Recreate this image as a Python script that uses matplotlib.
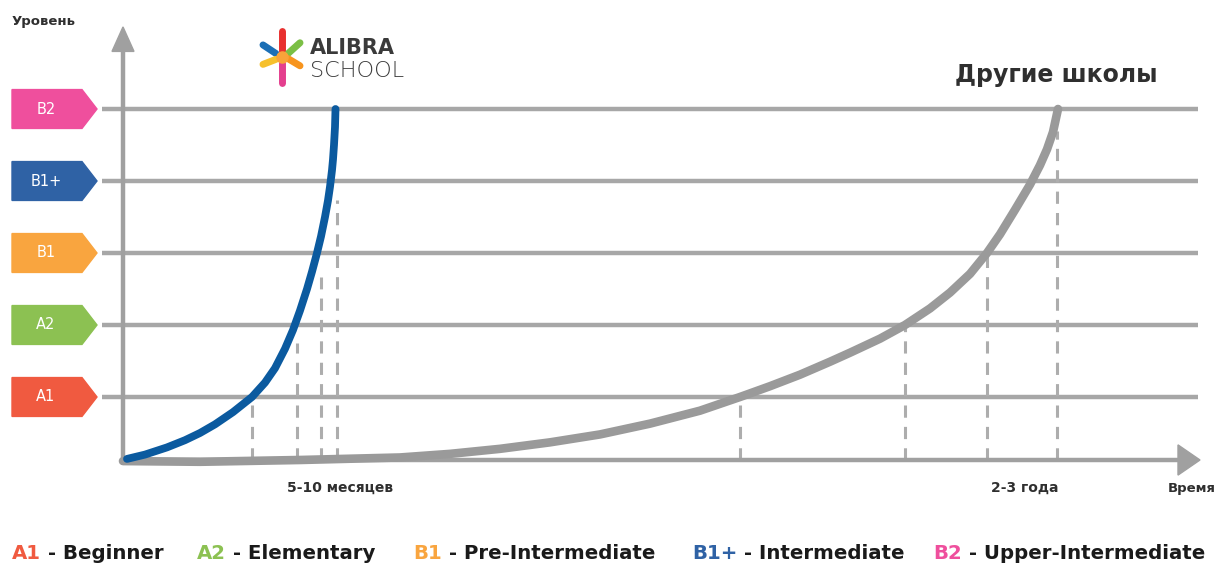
import matplotlib
matplotlib.use("Agg")
import matplotlib.pyplot as plt
from matplotlib.patches import Polygon

# ---------------- data ----------------
levels = ["A1", "A2", "B1", "B1+", "B2"]
level_pos = [1, 2, 3, 4, 5]
level_colors = ["#f05a40", "#8cc152", "#f9a53f", "#2f62a5", "#ef4f9d"]
level_names = ["Beginner", "Elementary", "Pre-Intermediate", "Intermediate", "Upper-Intermediate"]

alibra_t = [4, 22, 44, 62, 77, 92, 110, 129, 142, 152, 162, 170, 177, 184, 189, 194,
            198, 202, 205, 207, 209, 210, 211, 212, 212.5]
alibra_lvl = [0.14, 0.20, 0.30, 0.40, 0.50, 0.62, 0.79, 1.0, 1.20, 1.40, 1.67, 1.93,
              2.20, 2.50, 2.74, 3.0, 3.23, 3.50, 3.73, 3.92, 4.15, 4.30, 4.50, 4.75, 5.0]

other_t = [0, 77, 177, 277, 327, 377, 427, 477, 527, 577, 617, 647, 677, 707, 727, 757,
           782, 807, 827, 847, 864, 877, 892, 907, 917, 924, 930, 935]
other_lvl = [0.11, 0.10, 0.125, 0.16, 0.21, 0.28, 0.37, 0.48, 0.63, 0.81, 1.0, 1.15,
             1.31, 1.49, 1.615, 1.81, 2.0, 2.23, 2.45, 2.71, 3.0, 3.26, 3.60, 3.95,
             4.22, 4.44, 4.68, 5.0]

alibra_drop_t = [129, 174, 198, 214]
alibra_drop_top = [1.0, 1.75, 2.67, 3.74]
other_drop_t = [617, 782, 864, 934]
other_drop_top = [1.0, 2.0, 3.0, 4.7]

baseline = 0.125

fig = plt.figure(figsize=(12.18, 5.70), dpi=100)
ax = fig.add_axes([0, 0, 1, 1])
ax.set_xlim(-123, 1095)
ax.set_ylim(-1.403, 6.514)
ax.axis("off")

grey_line = "#a7a7a7"
axis_grey = "#a0a0a0"

# level lines
for y in level_pos:
    ax.plot([-21, 1075], [y, y], color=grey_line, lw=3.2, solid_capstyle="butt", zorder=1)

# axes with arrows
ax.plot([0, 0], [baseline, 5.85], color=axis_grey, lw=3.2, zorder=2, solid_capstyle="butt")
ax.plot([0, 1058], [baseline, baseline], color=axis_grey, lw=3.2, zorder=2, solid_capstyle="butt")
ax.add_patch(Polygon([[-11, 5.80], [11, 5.80], [0, 6.14]], closed=True, color=axis_grey, zorder=2))
ax.add_patch(Polygon([[1055, baseline + 0.21], [1055, baseline - 0.21], [1077, baseline]],
                     closed=True, color=axis_grey, zorder=2))

# drop lines
for t, top in zip(alibra_drop_t + other_drop_t, alibra_drop_top + other_drop_top):
    ax.plot([t, t], [baseline, top], color="#adadad", lw=2.2, ls=(0, (4, 3)), zorder=1.5)

# curves
ax.plot(other_t, other_lvl, color="#9a9a9a", lw=6.2, solid_capstyle="round",
        solid_joinstyle="round", zorder=3)
ax.plot(alibra_t, alibra_lvl, color="#0b5a9f", lw=5.6, solid_capstyle="round",
        solid_joinstyle="round", zorder=4)

# badges
for name, y, c in zip(levels, level_pos, level_colors):
    h = 0.27
    ax.add_patch(Polygon([[-111, y - h], [-41, y - h], [-26, y], [-41, y + h], [-111, y + h]],
                         closed=True, color=c, zorder=3))
    ax.text(-77, y, name, color="white", fontsize=10.5, ha="center", va="center", zorder=4)

# labels
dark = "#2f2f2f"
ax.text(-111, 6.21, "Уровень", color=dark, fontsize=9.5, fontweight="bold", ha="left", va="center")
ax.text(1093, -0.275, "Время", color=dark, fontsize=9.5, fontweight="bold", ha="right", va="center")
ax.text(217, -0.264, "5-10 месяцев", color=dark, fontsize=10, fontweight="bold",
        ha="center", va="center")
ax.text(902, -0.264, "2-3 года", color=dark, fontsize=10, fontweight="bold",
        ha="center", va="center")
ax.text(933, 5.47, "Другие школы", color=dark, fontsize=17, fontweight="bold",
        ha="center", va="center")

# ALIBRA SCHOOL logo
cx, cy = 159, 5.72
petals = [((0, 0.08), (0, 0.36), "#e8302f"),
          ((0, -0.08), (0, -0.36), "#e43f8e"),
          ((-6, 0.05), (-19, 0.17), "#1c6fb5"),
          ((-6, -0.03), (-19, -0.10), "#f6c02c"),
          ((6, 0.05), (18, 0.20), "#7bbf45"),
          ((6, -0.02), (18, -0.12), "#f7941e")]
for (a, b, c) in petals:
    ax.plot([cx + a[0], cx + b[0]], [cy + a[1], cy + b[1]], color=c, lw=5,
            solid_capstyle="round", zorder=5)
ax.plot([cx], [cy], marker="o", ms=8, color="#f9a33a", zorder=5)
ax.text(187, 5.85, "ALIBRA", color="#3a3a3a", fontsize=15, fontweight="heavy",
        ha="left", va="center")
ax.text(187, 5.53, "SCHOOL", color="#3a3a3a", fontsize=16, fontweight="light",
        ha="left", va="center")

# bottom legend
fig.canvas.draw()
renderer = fig.canvas.get_renderer()
starts_px = [12, 197, 413, 692, 933]
ly = -1.167
for name, full, c, sx in zip(levels, level_names, level_colors, starts_px):
    t1 = ax.text(sx - 123, ly, name, color=c, fontsize=14.2, fontweight="bold",
                 ha="left", va="center")
    bb = t1.get_window_extent(renderer=renderer)
    xd = ax.transData.inverted().transform((bb.x1, 0))[0]
    ax.text(xd, ly, " - " + full, color="#1a1a1a", fontsize=14.2, fontweight="bold",
            ha="left", va="center")

fig.savefig("out.png", dpi=100)
